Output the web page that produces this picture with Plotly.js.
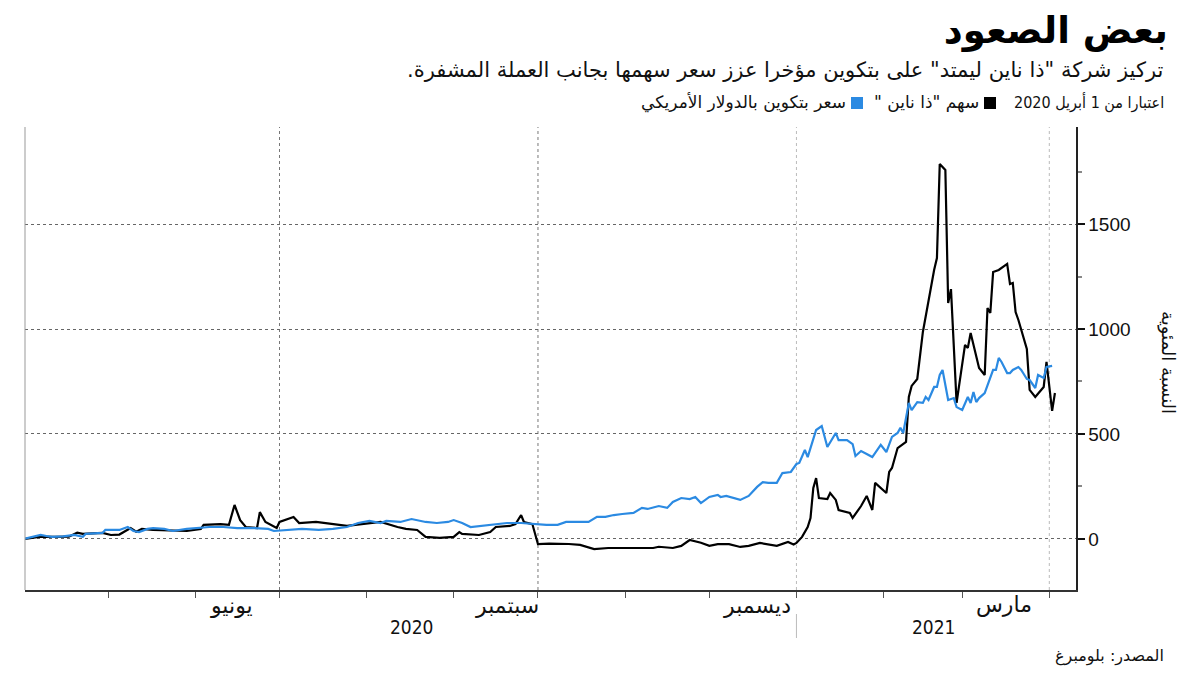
<!DOCTYPE html>
<html>
<head>
<meta charset="utf-8">
<script src="https://cdn.plot.ly/plotly-3.0.1.min.js"></script>
<style>
  html, body { margin: 0; padding: 0; background: #fff; }
  #chart { width: 1200px; height: 675px; }
</style>
</head>
<body>
<div id="chart"></div>
<script>
// ---- Data (percent change since 1 April 2020) ----
const nineDates = ["2020-04-01","2020-04-07","2020-04-12","2020-04-17","2020-04-20","2020-04-22","2020-04-29","2020-05-02","2020-05-05","2020-05-08","2020-05-09","2020-05-11","2020-05-13","2020-05-17","2020-05-23","2020-05-29","2020-06-03","2020-06-04","2020-06-10","2020-06-13","2020-06-15","2020-06-17","2020-06-19","2020-06-23","2020-06-24","2020-06-26","2020-06-30","2020-07-01","2020-07-06","2020-07-08","2020-07-14","2020-07-21","2020-07-25","2020-07-28","2020-08-06","2020-08-12","2020-08-15","2020-08-19","2020-08-22","2020-08-27","2020-09-01","2020-09-03","2020-09-04","2020-09-10","2020-09-14","2020-09-16","2020-09-21","2020-09-23","2020-09-25","2020-09-26","2020-09-29","2020-10-01","2020-10-05","2020-10-12","2020-10-16","2020-10-21","2020-10-26","2020-11-03","2020-11-11","2020-11-13","2020-11-18","2020-11-21","2020-11-24","2020-11-28","2020-12-01","2020-12-04","2020-12-08","2020-12-12","2020-12-15","2020-12-19","2020-12-21","2020-12-25","2020-12-29","2020-12-31","2021-01-01","2021-01-03","2021-01-05","2021-01-06","2021-01-07","2021-01-08","2021-01-09","2021-01-12","2021-01-13","2021-01-15","2021-01-16","2021-01-20","2021-01-21","2021-01-24","2021-01-26","2021-01-28","2021-01-29","2021-02-02","2021-02-03","2021-02-04","2021-02-06","2021-02-09","2021-02-10","2021-02-11","2021-02-13","2021-02-15","2021-02-19","2021-02-20","2021-02-21","2021-02-23","2021-02-24","2021-02-25","2021-02-27","2021-03-02","2021-03-03","2021-03-04","2021-03-07","2021-03-09","2021-03-10","2021-03-11","2021-03-12","2021-03-14","2021-03-17","2021-03-18","2021-03-19","2021-03-20","2021-03-21","2021-03-24","2021-03-25","2021-03-27","2021-03-30","2021-03-31","2021-04-02","2021-04-03"];
const nineValues = [0,11,10,11,30,24,29,19,21,43,52,35,48,43,40,38,48,67,71,67,162,90,57,52,128,81,52,81,105,76,81,71,62,67,81,57,48,43,10,5,10,33,24,19,33,57,62,71,114,81,71,-25,-22,-24,-28,-48,-43,-43,-43,-37,-43,-33,-5,-18,-33,-25,-25,-38,-33,-19,-24,-33,-14,-26,-19,10,57,100,243,290,195,190,219,186,138,124,100,157,205,138,267,219,319,338,433,462,676,729,762,986,1281,1338,1786,1757,1124,1190,648,924,910,981,814,781,1100,1076,1271,1281,1310,1214,1219,1081,1043,905,710,676,724,843,610,695];

const btcDates = ["2020-04-01","2020-04-04","2020-04-07","2020-04-09","2020-04-11","2020-04-15","2020-04-19","2020-04-22","2020-04-23","2020-04-29","2020-04-30","2020-05-05","2020-05-08","2020-05-10","2020-05-12","2020-05-15","2020-05-17","2020-05-21","2020-05-24","2020-05-29","2020-06-03","2020-06-06","2020-06-11","2020-06-16","2020-06-22","2020-06-27","2020-06-29","2020-07-04","2020-07-09","2020-07-15","2020-07-20","2020-07-25","2020-07-29","2020-08-02","2020-08-06","2020-08-08","2020-08-13","2020-08-17","2020-08-22","2020-08-26","2020-08-30","2020-09-01","2020-09-04","2020-09-07","2020-09-11","2020-09-16","2020-09-20","2020-09-25","2020-09-29","2020-10-04","2020-10-08","2020-10-11","2020-10-19","2020-10-22","2020-10-25","2020-10-28","2020-10-31","2020-11-04","2020-11-07","2020-11-09","2020-11-13","2020-11-16","2020-11-18","2020-11-21","2020-11-24","2020-11-26","2020-11-28","2020-12-01","2020-12-04","2020-12-05","2020-12-07","2020-12-12","2020-12-15","2020-12-18","2020-12-20","2020-12-22","2020-12-25","2020-12-27","2020-12-30","2021-01-01","2021-01-02","2021-01-04","2021-01-05","2021-01-08","2021-01-10","2021-01-12","2021-01-15","2021-01-16","2021-01-19","2021-01-21","2021-01-22","2021-01-24","2021-01-26","2021-01-28","2021-01-31","2021-02-02","2021-02-04","2021-02-06","2021-02-07","2021-02-08","2021-02-10","2021-02-11","2021-02-13","2021-02-15","2021-02-16","2021-02-17","2021-02-19","2021-02-20","2021-02-21","2021-02-22","2021-02-24","2021-02-26","2021-02-27","2021-03-01","2021-03-03","2021-03-04","2021-03-05","2021-03-06","2021-03-07","2021-03-09","2021-03-12","2021-03-13","2021-03-14","2021-03-15","2021-03-17","2021-03-18","2021-03-19","2021-03-21","2021-03-22","2021-03-24","2021-03-25","2021-03-27","2021-03-28","2021-03-30","2021-03-31","2021-04-02"];
const btcValues = [0,10,19,14,10,12,19,10,24,29,43,43,57,38,33,48,52,48,38,48,52,57,57,52,52,48,38,43,48,43,48,57,76,86,76,86,81,95,81,76,81,90,76,57,62,71,76,76,71,67,67,81,81,105,105,114,119,124,148,143,157,148,176,195,190,200,171,200,210,200,205,186,205,248,271,267,267,314,319,357,362,424,390,519,538,438,505,471,471,452,395,419,405,390,448,414,486,505,529,505,648,614,652,648,676,662,724,724,781,805,662,671,628,614,676,648,700,652,671,695,805,805,862,843,790,790,805,819,805,762,757,719,781,767,819,824];

// ---- Axis labels / texts ----
const monthTickDates = ["2020-05-01","2020-06-01","2020-07-01","2020-08-01","2020-09-01","2020-10-01","2020-11-01","2020-12-01","2021-01-01","2021-02-01","2021-03-01","2021-04-01"];
const monthLabels = ["يونيو","سبتمبر","ديسمبر","مارس"];
const monthLabelDates = ["2020-06-14","2020-09-20","2020-12-18","2021-03-16"];
const yearLabels = ["2020","2021"];
const yearLabelDates = ["2020-08-17","2021-02-19"];
const quarterDates = ["2020-07-01","2020-10-01","2021-01-01","2021-04-01"];
const yTickVals = [0,500,1000,1500];
const yMinorVals = [250,750,1250,1750];

const seriesNames = ['سهم "ذا ناين "', 'سعر بتكوين بالدولار الأمريكي'];
const titleText = 'بعض الصعود';
const subtitleText = 'تركيز شركة "ذا ناين ليمتد" على بتكوين مؤخرا عزز سعر سهمها بجانب العملة المشفرة.';
const asOfText = 'اعتبارا من 1 أبريل 2020';
const yTitle = 'النسبة المئوية';
const sourceText = 'المصدر: بلومبرغ';

const RLM = '\u200F';
const rtl = s => RLM + s + RLM;

const ARC = 'DejaVu Sans Condensed, DejaVu Sans, sans-serif';
const AR = 'DejaVu Sans, sans-serif';
const NUM = 'Liberation Sans, Arial, sans-serif';
const BLUE = '#2b8ae2';

// paper-coordinate helpers (plot area: x 25..1076, y 127..590)
const PX = x => (x - 25) / 1051;
const PY = y => (590 - y) / 463;

const traces = [
  { x: nineDates, y: nineValues, type: 'scatter', mode: 'lines', name: seriesNames[0],
    line: { color: '#000', width: 2.2 }, hoverinfo: 'skip' },
  { x: btcDates, y: btcValues, type: 'scatter', mode: 'lines', name: seriesNames[1],
    line: { color: BLUE, width: 2.2 }, hoverinfo: 'skip' }
];

const shapes = [];
quarterDates.forEach((d, i) => {
  shapes.push({ type: 'line', xref: 'x', yref: 'paper', x0: d, x1: d, y0: 0, y1: 1,
    line: { color: i < 2 ? '#777' : '#bbb', width: 1, dash: 'dot' }, layer: 'below' });
});
// left frame line
shapes.push({ type: 'line', xref: 'paper', yref: 'paper', x0: 0, x1: 0, y0: 0, y1: 1,
  line: { color: '#999', width: 1 } });
// year separator
shapes.push({ type: 'line', xref: 'x', yref: 'paper', x0: '2021-01-01', x1: '2021-01-01',
  y0: PY(614), y1: PY(638), line: { color: '#bbb', width: 1 } });
// legend squares
shapes.push({ type: 'rect', xref: 'paper', yref: 'paper', x0: PX(984), x1: PX(996), y0: PY(109), y1: PY(97),
  fillcolor: '#000', line: { width: 0 } });
shapes.push({ type: 'rect', xref: 'paper', yref: 'paper', x0: PX(851), x1: PX(863), y0: PY(109), y1: PY(97),
  fillcolor: BLUE, line: { width: 0 } });

const annotations = [];
monthLabels.forEach((t, i) => annotations.push({
  text: rtl(t), x: monthLabelDates[i], xref: 'x', y: PY(605), yref: 'paper',
  xanchor: 'center', yanchor: 'middle', showarrow: false, font: { family: AR, size: 22, color: '#111' }
}));
yearLabels.forEach((t, i) => annotations.push({
  text: t, x: yearLabelDates[i], xref: 'x', y: PY(627), yref: 'paper',
  xanchor: 'center', yanchor: 'middle', showarrow: false, font: { family: ARC, size: 19, color: '#111' }
}));
annotations.push({ text: rtl(subtitleText), xref: 'paper', yref: 'paper', x: PX(1166), y: PY(70),
  xanchor: 'right', yanchor: 'middle', showarrow: false, font: { family: AR, size: 21, color: '#111' } });
annotations.push({ text: rtl(asOfText), xref: 'paper', yref: 'paper', x: PX(1166), y: PY(103),
  xanchor: 'right', yanchor: 'middle', showarrow: false, font: { family: ARC, size: 16, color: '#111' } });
annotations.push({ text: rtl(seriesNames[0]), xref: 'paper', yref: 'paper', x: PX(981), y: PY(103),
  xanchor: 'right', yanchor: 'middle', showarrow: false, font: { family: AR, size: 17, color: '#111' } });
annotations.push({ text: rtl(seriesNames[1]), xref: 'paper', yref: 'paper', x: PX(848), y: PY(103),
  xanchor: 'right', yanchor: 'middle', showarrow: false, font: { family: AR, size: 17, color: '#111' } });
annotations.push({ text: rtl(yTitle), xref: 'paper', yref: 'paper', x: PX(1168), y: PY(362),
  xanchor: 'center', yanchor: 'middle', textangle: 90, showarrow: false, font: { family: AR, size: 18, color: '#111' } });
annotations.push({ text: rtl(sourceText), xref: 'paper', yref: 'paper', x: PX(1166), y: PY(656),
  xanchor: 'right', yanchor: 'middle', showarrow: false, font: { family: AR, size: 16, color: '#111' } });

const layout = {
  width: 1200, height: 675,
  margin: { l: 25, r: 124, t: 127, b: 85 },
  paper_bgcolor: '#fff', plot_bgcolor: '#fff',
  showlegend: false,
  title: { text: rtl(titleText), xref: 'container', yref: 'container', x: 1168 / 1200, xanchor: 'right',
    y: 1 - 30 / 675, yanchor: 'middle', font: { family: AR, size: 37, color: '#000', weight: 'bold' } },
  xaxis: {
    type: 'date', range: ['2020-04-01 10:00', '2021-04-10 12:00'],
    tickmode: 'array', tickvals: monthTickDates, ticktext: monthTickDates.map(() => ''),
    ticks: 'outside', ticklen: 6, tickcolor: '#555', tickwidth: 1,
    showgrid: false, zeroline: false, showline: true, linecolor: '#333', linewidth: 1.5, fixedrange: true
  },
  yaxis: {
    side: 'right', range: [-243, 1962],
    tickmode: 'array', tickvals: yTickVals, ticktext: yTickVals.map(String),
    ticks: 'outside', ticklen: 7, tickwidth: 2, tickcolor: '#111',
    tickfont: { family: NUM, size: 19, color: '#111' },
    showgrid: true, gridcolor: '#666', gridwidth: 1, griddash: 'dot',
    minor: { tickmode: 'array', tickvals: yMinorVals, ticks: 'outside', ticklen: 4, tickcolor: '#888', showgrid: false },
    zeroline: false, showline: true, linecolor: '#222', linewidth: 1.5, fixedrange: true
  },
  shapes: shapes,
  annotations: annotations
};

Plotly.newPlot('chart', traces, layout, { staticPlot: true, displayModeBar: false });
</script>
</body>
</html>
